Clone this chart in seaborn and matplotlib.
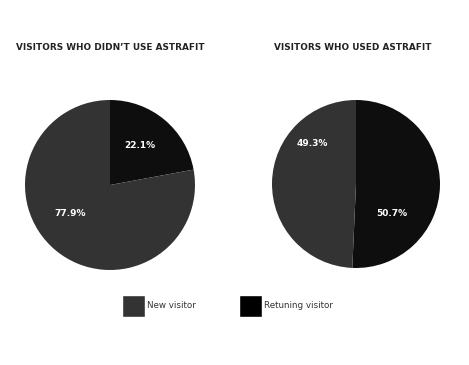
import seaborn as sns
import matplotlib.pyplot as plt
from matplotlib.patches import Patch

# -------------------------
# Data
# -------------------------
labels = ["Retuning visitor", "New visitor"]
without_astrafit = [22.1, 77.9]
with_astrafit = [50.7, 49.3]
titles = ["VISITORS WHO DIDN\u2019T USE ASTRAFIT", "VISITORS WHO USED ASTRAFIT"]
colors = ["#0e0e0e", "#333333"]

sns.set_theme(style="white")
plt.rcParams["font.family"] = ["DejaVu Sans"]

W, H = 469, 365
fig = plt.figure(figsize=(W / 100, H / 100), dpi=100)
fig.patch.set_facecolor("white")

# pie placement in pixels: (center x, center y from top, radius)
placements = [(110, 185, 85), (356, 184, 84)]
# label spots inside each pie (pie radius units)
label_spots = [
    [(0.35, 0.47), (-0.47, -0.33)],
    [(0.43, -0.35), (-0.52, 0.48)],
]
title_x = [110, 353]

for i, values in enumerate([without_astrafit, with_astrafit]):
    cx, cy, r = placements[i]
    ax = fig.add_axes([(cx - r) / W, (H - cy - r) / H, 2 * r / W, 2 * r / H])
    wedges, texts, autotexts = ax.pie(
        values,
        colors=colors,
        startangle=90,
        counterclock=False,
        autopct="%.1f%%",
        wedgeprops={"linewidth": 0},
        textprops={"color": "white", "fontsize": 6.5, "fontweight": "bold"},
    )
    for t, (x, y) in zip(autotexts, label_spots[i]):
        t.set_position((x, y))
    ax.set_xlim(-1, 1)
    ax.set_ylim(-1, 1)
    ax.axis("off")

    fig.text(title_x[i] / W, 1 - 48 / H, titles[i], ha="center", va="center",
             fontsize=6.4, fontweight="bold", color="#222222")

# Legend
handles = [Patch(facecolor=colors[1], label="New visitor"),
           Patch(facecolor="#000000", label="Retuning visitor")]
leg = fig.legend(handles=handles, loc="center left", bbox_to_anchor=(114 / W, 1 - 306 / H),
                 ncol=2, frameon=False, fontsize=6.3, handlelength=2.6, handleheight=3.6,
                 handletextpad=0.3, columnspacing=4.9)
for t in leg.get_texts():
    t.set_color("#333333")

plt.savefig("out.png", dpi=100)
